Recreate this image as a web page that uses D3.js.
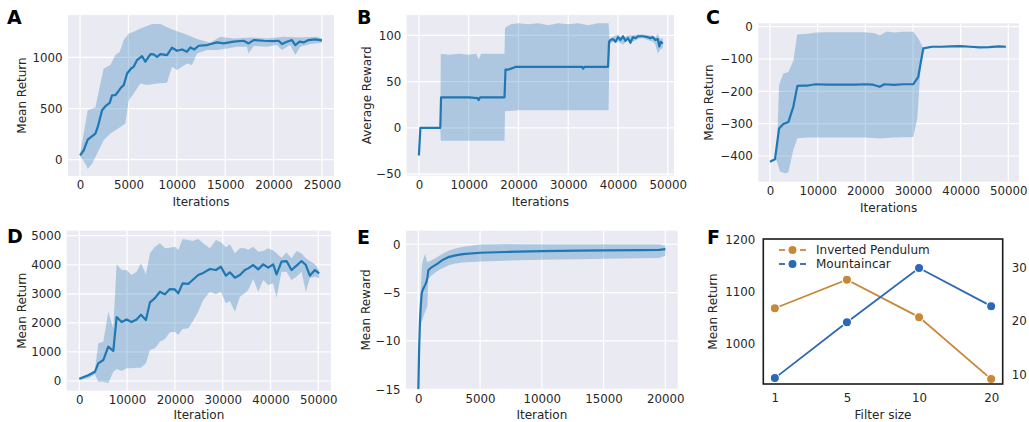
<!DOCTYPE html>
<html>
<head>
<meta charset="utf-8">
<script src="https://cdn.jsdelivr.net/npm/d3@7"></script>
<style>
  body { margin: 0; background: #fff; }
  svg { display: block; font-family: "DejaVu Sans", sans-serif; }
</style>
</head>
<body>
<svg id="fig" width="1029" height="422"></svg>
<script>
// ---------- data ----------
// A: mean return vs iterations
const aMean = [[0,42],[380,92],[790,196],[1580,255],[1830,320],[2270,484],[2620,523],[3060,556],[3300,630],[3650,630],[3990,673],[4240,706],[4510,729],[4860,843],[5270,892],[5540,908],[5890,974],[6400,1013],[6750,958],[7270,1033],[7610,1029],[7950,1006],[8300,1033],[8990,1023],[9500,1095],[10020,1065],[10540,1078],[11050,1056],[11400,1098],[11810,1078],[12260,1114],[13120,1121],[14150,1147],[14840,1137],[15870,1154],[16910,1163],[17420,1137],[17940,1170],[18970,1163],[20000,1160],[20520,1163],[20870,1131],[21380,1154],[21900,1170],[22250,1121],[22690,1154],[23110,1147],[23620,1170],[24310,1176],[25000,1167]];
const aHi = [[0,52],[790,484],[1580,510],[2100,745],[2440,892],[2790,908],[3130,925],[3650,1023],[4100,1056],[4510,1170],[5030,1235],[5540,1252],[6230,1284],[6920,1307],[7440,1327],[8300,1327],[8990,1294],[9680,1268],[10710,1235],[11740,1196],[12260,1176],[13460,1144],[14500,1203],[15870,1186],[17600,1196],[19320,1186],[21040,1203],[22760,1196],[24480,1203],[25000,1186]];
const aLo = [[0,33],[550,-39],[790,-88],[1240,-39],[1760,59],[2440,190],[3130,255],[3650,288],[4170,320],[4680,353],[5030,582],[5540,647],[6230,745],[6920,729],[7950,745],[8990,752],[9500,908],[10020,876],[11050,941],[11570,925],[12090,1039],[13120,1072],[14150,1072],[15190,1088],[16220,1105],[17250,1105],[17420,1039],[17940,1111],[19320,1105],[20350,1121],[20870,1072],[21730,1121],[22250,1023],[22760,1105],[23790,1131],[25000,1144]];

// B: average reward vs iterations
const bMean = [[0,-30],[300,0],[4300,0],[4450,33],[6000,33],[8000,33],[10000,33],[11800,32],[12000,30],[12300,33],[15000,33],[17200,33],[17400,63],[18000,63],[18500,64],[19000,65],[19500,66],[22000,66],[25000,66],[28000,66],[30000,66],[32800,66],[33000,64],[33300,66],[36000,66],[38000,66],[38200,93],[38500,95],[39000,96],[39500,93],[40000,98],[40500,95],[41000,99],[41500,94],[42000,97],[42500,92],[43000,98],[43500,97],[44000,99],[45000,99],[46000,98],[46500,97],[47000,98],[47500,95],[48000,96],[48300,88],[48600,93],[49000,91]];
const bHi = [[0,-30],[300,0],[4300,0],[4400,80],[6000,79],[8000,80],[10000,79],[11500,80],[12000,74],[12500,80],[15000,80],[17200,80],[17300,108],[17800,110],[18500,112],[20000,113],[22000,112],[24000,113],[26000,111],[28000,113],[30000,112],[32000,113],[34000,111],[36000,113],[38100,113],[38300,96],[39000,99],[40000,101],[41000,97],[42000,100],[43000,100],[44000,101],[45000,101],[46000,100],[47000,100],[47500,98],[48000,102],[48500,96],[49000,97]];
const bLo = [[0,-30],[300,0],[4300,0],[4400,-14],[17200,-14],[17300,18],[20000,19],[30000,19],[38100,19],[38300,90],[39000,93],[40000,93],[41000,90],[42000,95],[43000,93],[44000,96],[45000,97],[46000,95],[47000,93],[47500,90],[48000,80],[48500,85],[49000,86]];

// C: mean return vs iterations
const cMean = [[0,-418],[1050,-410],[1900,-315],[2800,-301],[3850,-295],[4900,-247],[5750,-183],[7000,-182],[8000,-182],[9500,-178],[12000,-179],[15000,-179],[18000,-179],[20000,-178],[21500,-179],[23000,-186],[24000,-178],[26000,-180],[28000,-178],[30070,-178],[31100,-155],[32170,-67],[34000,-62],[36000,-62],[38000,-61],[40000,-60],[42000,-62],[44000,-64],[46000,-63],[48000,-61],[49500,-62]];
const cHi = [[0,-418],[1050,-410],[1400,-405],[1900,-180],[2800,-145],[3850,-140],[4900,-105],[5700,-24],[8000,-22],[9500,-18],[12000,-17],[16000,-17],[20000,-17],[22000,-20],[23000,-27],[24500,-15],[26000,-18],[28000,-16],[30070,-16],[31100,-36],[32000,-62],[32170,-67]];
const cLo = [[0,-418],[1050,-410],[1400,-415],[2100,-448],[3150,-453],[3850,-450],[4900,-381],[5750,-345],[8000,-343],[12000,-343],[16000,-343],[20000,-343],[23000,-346],[26000,-343],[30070,-341],[30900,-284],[31600,-124],[32170,-67]];

// D: mean return vs iteration
const dX    = [0,1880,3280,3970,5020,6060,7110,7810,8850,9900,10940,11990,12890,13940,14780,15820,16870,17910,18960,20000,20700,21610,22790,23700,24880,25930,27320,28580,29620,30670,31500,32550,33600,34640,35340,36380,37430,38480,39520,40570,41260,42310,43350,44400,45440,46490,47400,48230,49280,50180];
const dMean = [80,200,321,608,722,1181,1032,2200,2030,2120,2030,2120,2280,2100,2706,2850,3073,2982,3165,3150,3016,3360,3340,3475,3647,3720,3853,3819,3933,3624,3739,3555,3647,3819,3876,3991,3842,4014,3899,4014,3670,4106,4128,3819,3968,4128,3991,3624,3819,3704];
const dHi   = [92,229,378,1296,1353,2385,1812,4014,3819,3819,3647,3761,4048,3670,4392,4622,4736,4564,4587,4622,4507,4885,4851,4817,4885,4736,4564,4851,4771,4599,4702,4392,4564,4564,4518,4622,4450,4472,4564,4495,4392,4243,4427,4220,4472,4392,4220,4128,4014,3819];
const dLo   = [34,92,229,-23,-23,-80,321,413,344,436,436,459,459,608,1067,1124,1353,1445,1674,1697,1583,1789,1812,2041,2385,2787,3073,2982,3073,2672,2752,2385,2901,3016,3131,3509,3073,3475,3303,3360,2867,3761,3761,3475,3589,3761,3073,3532,3589,3532];

// E: mean reward vs iteration
const eX    = [0,60,130,200,280,400,550,650,730,810,1000,1500,2000,2500,3000,3600,5000,7000,10000,13000,15000,18000,19500,20000];
const eMean = [-15,-11,-8,-6.3,-5.0,-4.6,-4.2,-3.9,-3.5,-2.7,-2.45,-2.05,-1.6,-1.3,-1.15,-1.03,-0.88,-0.8,-0.72,-0.67,-0.63,-0.6,-0.58,-0.5];
const eHi   = [-15,-9,-6.5,-4.5,-2.3,-1.5,-1.0,-1.5,-1.9,-1.8,-1.7,-1.35,-0.95,-0.65,-0.45,-0.25,-0.02,0.02,0,0,0,0,0,-0.15];
const eLo   = [-15,-12,-9,-8.2,-8.0,-7.5,-7.0,-6.7,-6.4,-3.6,-3.3,-2.8,-2.45,-2.15,-2.0,-1.9,-1.78,-1.7,-1.6,-1.55,-1.5,-1.45,-1.42,-1.2];

// F: filter size study
const fSizes    = ['1', '5', '10', '20'];
const fPendulum = [1069, 1124, 1052, 933];   // left axis
const fMountain = [9.4, 19.8, 29.9, 22.8];   // right axis
const fSeries   = ['Inverted Pendulum', 'Mountaincar'];

// ---------- styles ----------
const INK = '#262626';
const BLUE = '#1f77b4';
const BAND = 'rgba(31,119,180,0.3)';
const FONT = '"DejaVu Sans", sans-serif';
const TICK_FS = 11.8;

const svg = d3.select('#fig');
const zip = (xs, ys) => xs.map((x, i) => [x, ys[i]]);

function styleAxis(g) {
  g.select('.domain').remove();
  g.selectAll('.tick line').remove();
  g.selectAll('text')
    .attr('fill', INK)
    .attr('font-size', TICK_FS)
    .attr('font-family', FONT);
}

function letter(txt, x, y) {
  svg.append('text')
    .attr('x', x).attr('y', y)
    .attr('font-family', FONT)
    .attr('font-weight', 'bold')
    .attr('font-size', 19)
    .attr('fill', '#000')
    .text(txt);
}

function yLabel(txt, cx, cy) {
  svg.append('text')
    .attr('transform', `translate(${cx},${cy}) rotate(-90)`)
    .attr('text-anchor', 'middle')
    .attr('dominant-baseline', 'central')
    .attr('font-family', FONT).attr('font-size', 12)
    .attr('fill', INK)
    .text(txt);
}

function xLabel(txt, cx, by) {
  svg.append('text')
    .attr('x', cx).attr('y', by)
    .attr('text-anchor', 'middle')
    .attr('font-family', FONT).attr('font-size', 12)
    .attr('fill', INK)
    .text(txt);
}

let clipN = 0;
function drawPanel(p) {
  const x = d3.scaleLinear().domain(p.xd).range([p.l, p.r]);
  const y = d3.scaleLinear().domain(p.yd).range([p.b, p.t]);
  const w = p.r - p.l, h = p.b - p.t;

  svg.append('rect')
    .attr('x', p.l).attr('y', p.t).attr('width', w).attr('height', h)
    .attr('fill', '#eaeaf2');

  // white grid
  const grid = svg.append('g').attr('stroke', '#fff').attr('stroke-width', 1.2);
  p.xt.forEach(v => grid.append('line')
    .attr('x1', x(v)).attr('x2', x(v)).attr('y1', p.t).attr('y2', p.b));
  p.yt.forEach(v => grid.append('line')
    .attr('x1', p.l).attr('x2', p.r).attr('y1', y(v)).attr('y2', y(v)));

  const id = 'clip' + (clipN++);
  svg.append('clipPath').attr('id', id)
    .append('rect').attr('x', p.l).attr('y', p.t).attr('width', w).attr('height', h);
  const g = svg.append('g').attr('clip-path', `url(#${id})`);

  const line = d3.line().x(d => x(d[0])).y(d => y(d[1]));
  g.append('path')
    .attr('d', line(p.hi.concat(p.lo.slice().reverse())) + 'Z')
    .attr('fill', BAND).attr('stroke', 'none');
  g.append('path')
    .attr('d', line(p.mean))
    .attr('fill', 'none').attr('stroke', BLUE)
    .attr('stroke-width', 2.2).attr('stroke-linejoin', 'round');

  svg.append('g').attr('transform', `translate(0,${p.b})`)
    .call(d3.axisBottom(x).tickValues(p.xt).tickSize(0).tickPadding(5).tickFormat(d3.format('d')))
    .call(styleAxis);
  svg.append('g').attr('transform', `translate(${p.l},0)`)
    .call(d3.axisLeft(y).tickValues(p.yt).tickSize(0).tickPadding(5.5).tickFormat(d3.format('d')))
    .call(styleAxis);

  xLabel(p.xl, (p.l + p.r) / 2, Math.min(p.b + 30, 419));
  yLabel(p.yl, p.ylx, (p.t + p.b) / 2);
  letter(p.letter, p.lx, p.ly);
}

drawPanel({ letter: 'A', lx: 7, ly: 24, l: 68, r: 334, t: 15, b: 176,
  xd: [-1250, 26250], yd: [-160, 1415],
  xt: [0, 5000, 10000, 15000, 20000, 25000], yt: [0, 500, 1000],
  xl: 'Iterations', yl: 'Mean Return', ylx: 21.7,
  mean: aMean, hi: aHi, lo: aLo });

drawPanel({ letter: 'B', lx: 357, ly: 24, l: 406.7, r: 674, t: 15, b: 175.7,
  xd: [-2450, 51250], yd: [-51.8, 122],
  xt: [0, 10000, 20000, 30000, 40000, 50000], yt: [-50, 0, 50, 100],
  xl: 'Iterations', yl: 'Average Reward', ylx: 366.7,
  mean: bMean, hi: bHi, lo: bLo });

drawPanel({ letter: 'C', lx: 706, ly: 24, l: 758.3, r: 1019, t: 23.3, b: 181.7,
  xd: [-2455, 52245], yd: [-479.5, 10.5],
  xt: [0, 10000, 20000, 30000, 40000, 50000], yt: [-400, -300, -200, -100, 0],
  xl: 'Iterations', yl: 'Mean Return', ylx: 709,
  mean: cMean, hi: cHi, lo: cLo });

drawPanel({ letter: 'D', lx: 7, ly: 243, l: 66.7, r: 331, t: 230.7, b: 390.7,
  xd: [-2636, 52657], yd: [-333, 5172],
  xt: [0, 10000, 20000, 30000, 40000, 50000], yt: [0, 1000, 2000, 3000, 4000, 5000],
  xl: 'Iteration', yl: 'Mean Return', ylx: 21.7,
  mean: zip(dX, dMean), hi: zip(dX, dHi), lo: zip(dX, dLo) });

drawPanel({ letter: 'E', lx: 357, ly: 244, l: 406, r: 677.7, t: 230.7, b: 389.3,
  xd: [-1000, 21000], yd: [-15, 1.4],
  xt: [0, 5000, 10000, 15000, 20000], yt: [-15, -10, -5, 0],
  xl: 'Iteration', yl: 'Mean Reward', ylx: 365.5,
  mean: zip(eX, eMean), hi: zip(eX, eHi), lo: zip(eX, eLo) });

// ---------- F: filter size (twin y axes) ----------
(function () {
  const l = 763.3, r = 1002.7, t = 239, b = 384;
  const x = d3.scalePoint().domain(fSizes).range([l, r]).padding(0.16);
  const yL = d3.scaleLinear().domain([923.6, 1202]).range([b, t]);
  const yR = d3.scaleLinear().domain([8.3, 35.3]).range([b, t]);
  const ORANGE = '#c8883a', FBLUE = '#2c68b4';

  const line = d3.line();
  const series = [
    { vals: fPendulum, y: yL, color: ORANGE },
    { vals: fMountain, y: yR, color: FBLUE }
  ];
  series.forEach(s => {
    const pts = fSizes.map((k, i) => [x(k), s.y(s.vals[i])]);
    svg.append('path').attr('d', line(pts))
      .attr('fill', 'none').attr('stroke', s.color).attr('stroke-width', 1.8);
    svg.append('g').selectAll('circle').data(pts).join('circle')
      .attr('cx', d => d[0]).attr('cy', d => d[1]).attr('r', 4.6)
      .attr('fill', s.color).attr('stroke', '#fff').attr('stroke-width', 1.2);
  });

  svg.append('rect')
    .attr('x', l).attr('y', t).attr('width', r - l).attr('height', b - t)
    .attr('fill', 'none').attr('stroke', '#1a1a1a').attr('stroke-width', 1.6);

  svg.append('g').attr('transform', `translate(0,${b})`)
    .call(d3.axisBottom(x).tickSize(0).tickPadding(9.3))
    .call(styleAxis);
  svg.append('g').attr('transform', `translate(${l},0)`)
    .call(d3.axisLeft(yL).tickValues([1000, 1100, 1200]).tickSize(0).tickPadding(8).tickFormat(d3.format('d')))
    .call(styleAxis);
  svg.append('g').attr('transform', `translate(${r},0)`)
    .call(d3.axisRight(yR).tickValues([10, 20, 30]).tickSize(0).tickPadding(9).tickFormat(d3.format('d')))
    .call(styleAxis);

  // legend
  const lg = svg.append('g');
  fSeries.forEach((name, i) => {
    const cy = 250 + i * 14;
    const c = i === 0 ? ORANGE : FBLUE;
    lg.append('line').attr('x1', 779).attr('x2', 785).attr('y1', cy).attr('y2', cy)
      .attr('stroke', c).attr('stroke-width', 1.8);
    lg.append('line').attr('x1', 800).attr('x2', 806).attr('y1', cy).attr('y2', cy)
      .attr('stroke', c).attr('stroke-width', 1.8);
    lg.append('circle').attr('cx', 792.5).attr('cy', cy).attr('r', 4.6)
      .attr('fill', c).attr('stroke', '#fff').attr('stroke-width', 1.2);
    lg.append('text').attr('x', 816).attr('y', cy).attr('dy', '0.35em')
      .attr('font-family', FONT).attr('font-size', 12).attr('fill', INK)
      .text(name);
  });

  xLabel('Filter size', (l + r) / 2, 418.5);
  yLabel('Mean Return', 712.5, (t + b) / 2);
  letter('F', 707, 244);
})();
</script>
</body>
</html>
